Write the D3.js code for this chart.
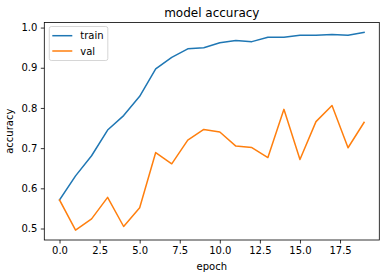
<!DOCTYPE html>
<html>
<head>
<meta charset="utf-8">
<script src="https://cdn.jsdelivr.net/npm/d3@7"></script>
<style>
  body { margin: 0; background: #fff; }
  text { font-family: "DejaVu Sans", sans-serif; fill: #000; }
</style>
</head>
<body>
<div id="chart"></div>
<script>
// data
var epochs = d3.range(20);
var train = [0.571, 0.631, 0.681, 0.745, 0.781, 0.829, 0.897, 0.926, 0.947, 0.950,
             0.962, 0.968, 0.965, 0.976, 0.976, 0.981, 0.981, 0.983, 0.981, 0.988];
var val = [0.571, 0.496, 0.524, 0.5775, 0.505, 0.5515, 0.689, 0.661, 0.720, 0.7465,
           0.740, 0.705, 0.7015, 0.6765, 0.7965, 0.6715, 0.766, 0.806, 0.701, 0.764];
var xTicks = [0, 2.5, 5, 7.5, 10, 12.5, 15, 17.5];
var yTicks = [0.5, 0.6, 0.7, 0.8, 0.9, 1.0];
var seriesNames = ["train", "val"];
var colors = ["#1f77b4", "#ff7f0e"];

(function() {
	var W = 386, H = 278;
	var margin = { top: 22.5, left: 44.3, right: 6.7, bottom: 38 },
		width = W - margin.left - margin.right,
		height = H - margin.top - margin.bottom;

	var svg = d3.select("#chart").append("svg")
		.attr("width", W).attr("height", H);

	var g = svg.append("g")
		.attr("transform", "translate(" + margin.left + "," + margin.top + ")");

	// matplotlib style 5% margins
	var xExt = d3.extent(epochs), xPad = (xExt[1] - xExt[0]) * 0.05;
	var all = train.concat(val);
	var yExt = d3.extent(all), yPad = (yExt[1] - yExt[0]) * 0.05;

	var x = d3.scaleLinear().domain([xExt[0] - xPad, xExt[1] + xPad]).range([0, width]);
	var y = d3.scaleLinear().domain([yExt[0] - yPad, yExt[1] + yPad]).range([height, 0]);

	var line = d3.line()
		.x(function(d, i) { return x(epochs[i]); })
		.y(function(d) { return y(d); });

	[train, val].forEach(function(s, k) {
		g.append("path")
			.datum(s)
			.attr("fill", "none")
			.attr("stroke", colors[k])
			.attr("stroke-width", 1.5)
			.attr("stroke-linejoin", "round")
			.attr("stroke-linecap", "square")
			.attr("d", line);
	});

	// axes
	var xAxis = g.append("g")
		.attr("transform", "translate(0," + height + ")")
		.call(d3.axisBottom(x).tickValues(xTicks).tickFormat(d3.format(".1f")).tickSize(3.5).tickPadding(3.5));
	var yAxis = g.append("g")
		.call(d3.axisLeft(y).tickValues(yTicks).tickFormat(d3.format(".1f")).tickSize(3.5).tickPadding(3.5));
	[xAxis, yAxis].forEach(function(a) {
		a.select(".domain").remove();
		a.selectAll("line").attr("stroke", "#000").attr("stroke-width", 0.8);
		a.selectAll("text").style("font-size", "10px").attr("fill", "#000");
	});

	// spines
	g.append("rect")
		.attr("width", width).attr("height", height)
		.attr("fill", "none").attr("stroke", "#000").attr("stroke-width", 0.8);

	// title and labels
	svg.append("text")
		.attr("x", margin.left + width / 2).attr("y", 17)
		.attr("text-anchor", "middle").style("font-size", "12px")
		.text("model accuracy");
	svg.append("text")
		.attr("x", margin.left + width / 2).attr("y", 270)
		.attr("text-anchor", "middle").style("font-size", "10px")
		.text("epoch");
	svg.append("text")
		.attr("transform", "translate(13," + (margin.top + height / 2) + ") rotate(-90)")
		.attr("text-anchor", "middle").style("font-size", "10px")
		.text("accuracy");

	// legend
	var lg = g.append("g").attr("transform", "translate(5,4)");
	lg.append("rect")
		.attr("width", 58.5).attr("height", 34).attr("rx", 2)
		.attr("fill", "#fff").attr("fill-opacity", 0.8)
		.attr("stroke", "#ccc").attr("stroke-width", 0.8);
	seriesNames.forEach(function(n, k) {
		var yy = 9.2 + k * 15.3;
		lg.append("line")
			.attr("x1", 3).attr("x2", 23).attr("y1", yy).attr("y2", yy)
			.attr("stroke", colors[k]).attr("stroke-width", 1.5);
		lg.append("text")
			.attr("x", 31).attr("y", yy + 3.6)
			.style("font-size", "10px")
			.text(n);
	});
})();
</script>
</body>
</html>
